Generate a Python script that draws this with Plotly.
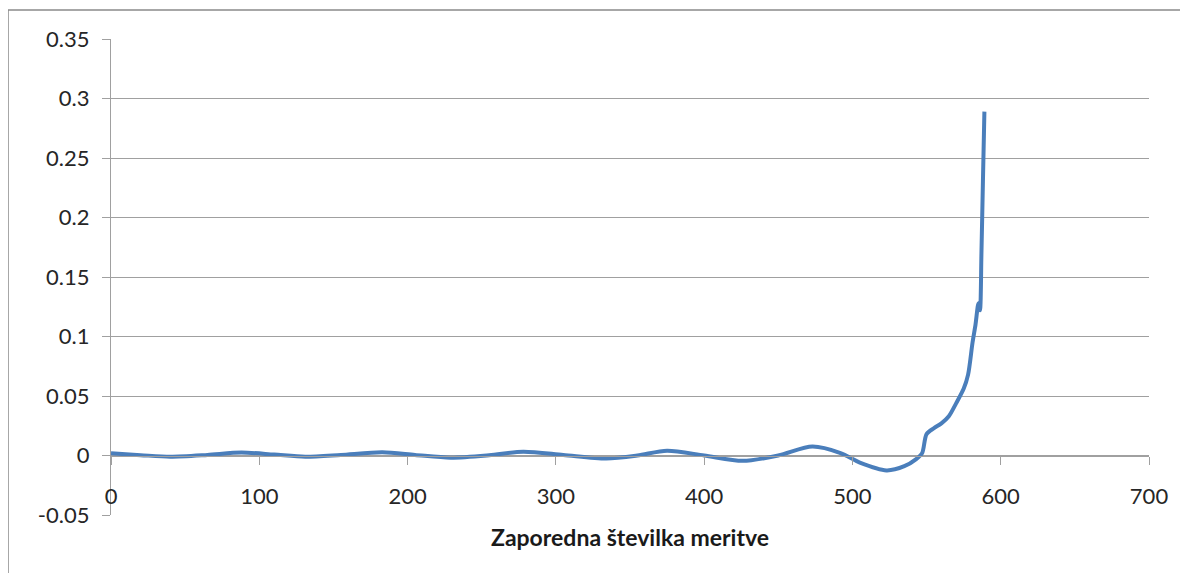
import plotly.graph_objects as go

# Data
meritev = [0, 20, 40, 65, 88, 110, 131, 155, 183, 205, 229, 255, 278, 305, 334,
           355, 375, 400, 426, 450, 473, 492, 505, 523, 535, 543, 547, 550, 555,
           560, 565, 570, 575, 578, 581, 583, 585, 586, 587, 588, 589]
vrednost = [0.0018, 0.0003, -0.001, 0.0005, 0.0025, 0.0008, -0.001, 0.0005, 0.0027,
            0.0005, -0.0018, 0.0002, 0.0032, 0.0005, -0.0025, 0.0, 0.004, 0.0,
            -0.0045, 0.0, 0.0075, 0.002, -0.006, -0.0125, -0.009, -0.003, 0.002,
            0.018, 0.023, 0.027, 0.033, 0.044, 0.056, 0.068, 0.095, 0.11, 0.128,
            0.122, 0.17, 0.23, 0.289]

y_ticks = [-0.05, 0, 0.05, 0.1, 0.15, 0.2, 0.25, 0.3, 0.35]
y_labels = ["-0.05", "0", "0.05", "0.1", "0.15", "0.2", "0.25", "0.3", "0.35"]
x_ticks = [0, 100, 200, 300, 400, 500, 600, 700]
x_title = "Zaporedna številka meritve"

grid = "#a0a0a0"
font = dict(family="Lato, 'Open Sans', sans-serif", size=22, color="#262626")

fig = go.Figure()
fig.add_trace(go.Scatter(
    x=meritev, y=vrednost, mode="lines",
    line=dict(color="#4a7ebb", width=4, shape="spline", smoothing=0.8),
    showlegend=False, hoverinfo="x+y",
))

fig.update_layout(
    width=1188, height=573,
    margin=dict(l=103, r=47, t=31, b=66),
    paper_bgcolor="white", plot_bgcolor="white",
    font=font,
    xaxis=dict(
        range=[0, 700], tickvals=x_ticks, showgrid=False, zeroline=False,
        showline=True, linecolor=grid, linewidth=1.3,
        ticks="outside", ticklen=8, tickcolor=grid, tickwidth=1.3,
        anchor="free", position=0.125, ticklabelstandoff=13,
        tickfont=font,
    ),
    yaxis=dict(
        range=[-0.05, 0.35], tickvals=y_ticks, ticktext=y_labels,
        showgrid=True, gridcolor=grid, gridwidth=1.3, zeroline=False,
        showline=True, linecolor=grid, linewidth=1.3,
        ticks="outside", ticklen=8, tickcolor=grid, tickwidth=1.3,
        ticklabelstandoff=8, tickfont=font,
    ),
    annotations=[dict(
        text="<b>" + x_title + "</b>", xref="paper", yref="paper",
        x=0.5, y=(515 - 537) / 476, xanchor="center", yanchor="middle",
        showarrow=False, font=dict(family=font["family"], size=23, color="#1a1a1a"),
    )],
    shapes=[
        dict(type="line", xref="paper", yref="paper",
             x0=(8 - 111) / 1038, x1=(8 - 111) / 1038,
             y0=(515 - 10) / 476, y1=(515 - 580) / 476,
             line=dict(color="#8a8a8a", width=1.5)),
        dict(type="line", xref="paper", yref="paper",
             x0=(8 - 111) / 1038, x1=(1195 - 111) / 1038,
             y0=(515 - 10) / 476, y1=(515 - 10) / 476,
             line=dict(color="#8a8a8a", width=1.5)),
    ],
)

fig.write_html("out.html")
